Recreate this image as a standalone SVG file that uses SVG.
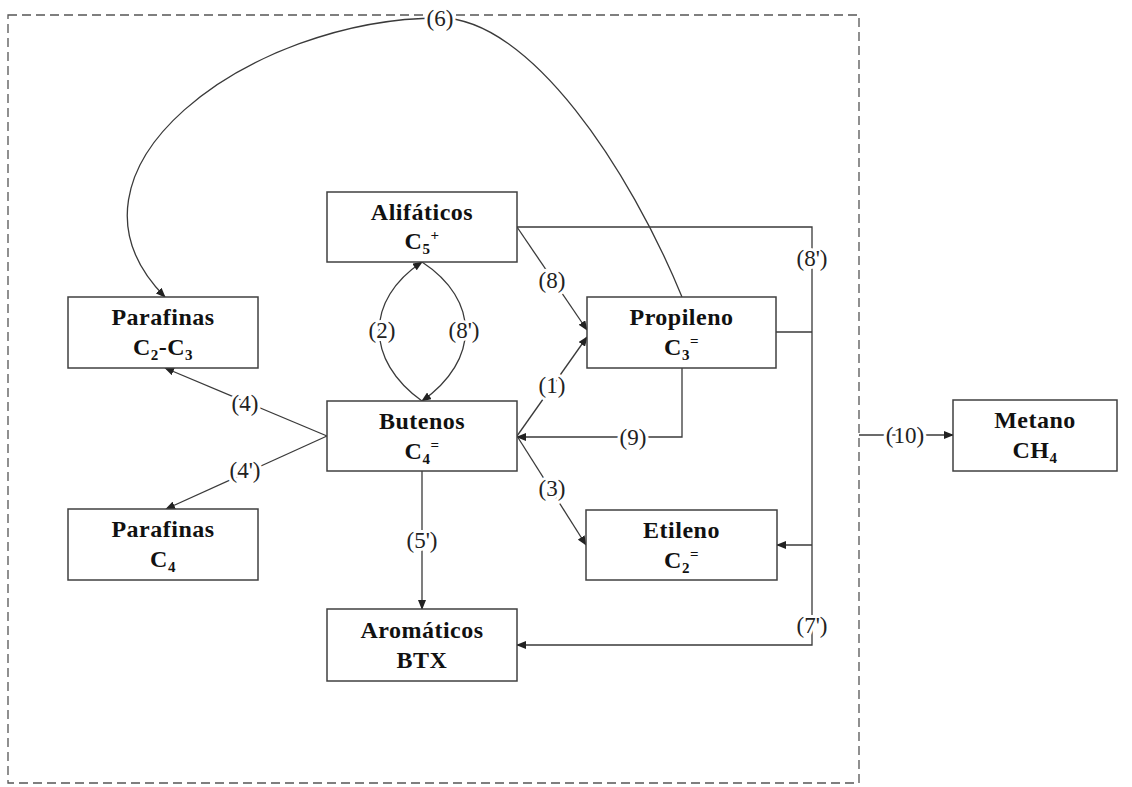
<svg xmlns="http://www.w3.org/2000/svg" width="1132" height="787" viewBox="0 0 1132 787">
<style>
.box{fill:#fff;stroke:#404040;stroke-width:1.5}
.t{font-family:"Liberation Serif","Times New Roman",serif;font-weight:bold;font-size:24px;fill:#111;text-anchor:middle;letter-spacing:0.5px}
.s{font-size:15px}
.c{fill:none;stroke:#3a3a3a;stroke-width:1.3}
.lb{font-family:"Liberation Serif","Times New Roman",serif;font-size:23px;fill:#222;text-anchor:middle;stroke:#fff;stroke-width:6px;paint-order:stroke;stroke-linejoin:round}
.frame{fill:none;stroke:#555;stroke-width:1.3;stroke-dasharray:9 5}
</style>
<defs>
<marker id="ah" markerWidth="10" markerHeight="8" refX="9" refY="4" orient="auto" markerUnits="userSpaceOnUse">
<path d="M0,0 L10,4 L0,8 Z" fill="#222"/>
</marker>
</defs>
<rect width="1132" height="787" fill="#fff"/>
<rect class="frame" x="8" y="15" width="851" height="768"/>

<g id="connectors">
<path class="c" d="M682,297 C630,170 530,18 440,18 C250,18 40,170 165,297" marker-end="url(#ah)"/>
<path class="c" d="M422,401 C365,360 365,300 422,262" marker-end="url(#ah)"/>
<path class="c" d="M422,262 C480,300 480,360 422,401" marker-end="url(#ah)"/>
<path class="c" d="M517,227 L587,330" marker-end="url(#ah)"/>
<path class="c" d="M517,436 L587,337" marker-end="url(#ah)"/>
<path class="c" d="M682,368 V437 H517" marker-end="url(#ah)"/>
<path class="c" d="M517,436 L586,545" marker-end="url(#ah)"/>
<path class="c" d="M327,436 L165,368" marker-end="url(#ah)"/>
<path class="c" d="M327,436 L166,509" marker-end="url(#ah)"/>
<path class="c" d="M422,471 V609" marker-end="url(#ah)"/>
<path class="c" d="M517,227 H812 V645 H517" marker-end="url(#ah)"/>
<path class="c" d="M776,332 H812"/>
<path class="c" d="M812,545 H777" marker-end="url(#ah)"/>
<path class="c" d="M859,435 H953" marker-end="url(#ah)"/>
</g>

<g id="labels">
<text class="lb" x="440" y="26">(6)</text>
<text class="lb" x="382" y="338">(2)</text>
<text class="lb" x="464" y="338">(8')</text>
<text class="lb" x="552" y="288">(8)</text>
<text class="lb" x="552" y="393">(1)</text>
<text class="lb" x="633" y="445">(9)</text>
<text class="lb" x="552" y="496">(3)</text>
<text class="lb" x="245" y="411">(4)</text>
<text class="lb" x="245" y="478">(4')</text>
<text class="lb" x="422" y="548">(5')</text>
<text class="lb" x="812" y="266">(8')</text>
<text class="lb" x="812" y="633">(7')</text>
<text class="lb" x="905" y="443">(10)</text>
</g>

<g id="alifaticos">
<rect class="box" x="327" y="192" width="190" height="70"/>
<text class="t" x="422" y="220">Alifáticos</text>
<text class="t" x="422" y="249">C<tspan class="s" dy="5">5</tspan><tspan class="s" dy="-14">+</tspan></text>
</g>
<g id="parafinas-c2c3">
<rect class="box" x="68" y="297" width="190" height="71"/>
<text class="t" x="163" y="325">Parafinas</text>
<text class="t" x="163" y="355">C<tspan class="s" dy="5">2</tspan><tspan dy="-5">-C</tspan><tspan class="s" dy="5">3</tspan></text>
</g>
<g id="propileno">
<rect class="box" x="587" y="297" width="189" height="71"/>
<text class="t" x="681.5" y="325">Propileno</text>
<text class="t" x="681.5" y="355">C<tspan class="s" dy="5">3</tspan><tspan class="s" dy="-14">=</tspan></text>
</g>
<g id="butenos">
<rect class="box" x="327" y="401" width="190" height="70"/>
<text class="t" x="422" y="429">Butenos</text>
<text class="t" x="422" y="459">C<tspan class="s" dy="5">4</tspan><tspan class="s" dy="-14">=</tspan></text>
</g>
<g id="parafinas-c4">
<rect class="box" x="68" y="509" width="190" height="71"/>
<text class="t" x="163" y="537">Parafinas</text>
<text class="t" x="163" y="567">C<tspan class="s" dy="5">4</tspan></text>
</g>
<g id="etileno">
<rect class="box" x="586" y="510" width="191" height="70"/>
<text class="t" x="681.5" y="538">Etileno</text>
<text class="t" x="681.5" y="568">C<tspan class="s" dy="5">2</tspan><tspan class="s" dy="-14">=</tspan></text>
</g>
<g id="aromaticos">
<rect class="box" x="327" y="609" width="190" height="72"/>
<text class="t" x="422" y="638">Aromáticos</text>
<text class="t" x="422" y="668">BTX</text>
</g>
<g id="metano">
<rect class="box" x="953" y="400" width="164" height="71"/>
<text class="t" x="1035" y="428">Metano</text>
<text class="t" x="1035" y="458">CH<tspan class="s" dy="5">4</tspan></text>
</g>
</svg>
